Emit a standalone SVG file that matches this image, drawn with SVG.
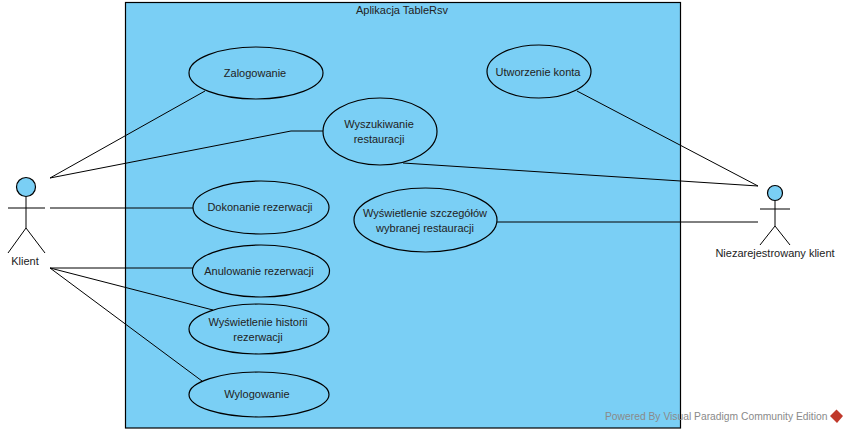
<svg xmlns="http://www.w3.org/2000/svg" width="849" height="433" viewBox="0 0 849 433">
<style>
text{font-family:"Liberation Sans",Arial,sans-serif;font-size:11px;fill:#222;text-anchor:middle}
.u{fill:#7acff5;stroke:#000;stroke-width:1.2}
.l{fill:none;stroke:#000;stroke-width:1}
</style>
<rect width="849" height="433" fill="#fff"/>
<g id="system"><rect class="u" x="125.500" y="2.500" width="555" height="425.500"/><text x="402" y="14">Aplikacja TableRsv</text></g>
<g id="connectors" class="l">
<path d="M50 178L205 91"/><path d="M50 178L291 131H323"/><path d="M50 208H193"/>
<path d="M50 268H193"/><path d="M50 268L213 310"/><path d="M50 268L202 381"/>
<path d="M403 163L758 186"/><path d="M577 91L758 186"/><path d="M497 222H758"/>
</g>
<g id="uc-zalogowanie"><ellipse class="u" cx="256" cy="73" rx="67" ry="26"/><text x="255" y="77">Zalogowanie</text></g>
<g id="uc-wyszukiwanie"><ellipse class="u" cx="380" cy="131.500" rx="57" ry="33.500"/><text x="379" y="128">Wyszukiwanie</text><text x="379" y="143">restauracji</text></g>
<g id="uc-utworzenie"><ellipse class="u" cx="539" cy="71.500" rx="52" ry="26.500"/><text x="538" y="76">Utworzenie konta</text></g>
<g id="uc-dokonanie"><ellipse class="u" cx="261" cy="207.500" rx="68" ry="26.500"/><text x="260" y="211">Dokonanie rezerwacji</text></g>
<g id="uc-szczegoly"><ellipse class="u" cx="425.500" cy="220" rx="71.500" ry="32"/><text x="425" y="217">Wyświetlenie szczegółów</text><text x="425" y="232">wybranej restauracji</text></g>
<g id="uc-anulowanie"><ellipse class="u" cx="261" cy="271" rx="68.500" ry="26"/><text x="259" y="275">Anulowanie rezerwacji</text></g>
<g id="uc-historia"><ellipse class="u" cx="259" cy="329" rx="70" ry="25"/><text x="258" y="326">Wyświetlenie historii</text><text x="258" y="341">rezerwacji</text></g>
<g id="uc-wylogowanie"><ellipse class="u" cx="259" cy="394.500" rx="70" ry="22.500"/><text x="257" y="398">Wylogowanie</text></g>
<g id="actor-klient"><circle class="u" cx="26" cy="187" r="9.500"/><path class="l" d="M26 197V228M8 208H45M8 253L26 228L45 253"/><text x="25" y="265">Klient</text></g>
<g id="actor-niezarejestrowany"><circle class="u" cx="775" cy="193" r="7.500"/><path class="l" d="M775 201V226M760 209H790M760 245L775 226L790 245"/><text x="775" y="257">Niezarejestrowany klient</text></g>
<g id="watermark"><text x="605" y="420" style="fill:#8a8a8a;font-size:10.300px;text-anchor:start">Powered By  Visual Paradigm Community Edition</text><path d="M836.500 409.500L843 416L837 423L830 416Z" fill="#c0392b"/></g>
</svg>
